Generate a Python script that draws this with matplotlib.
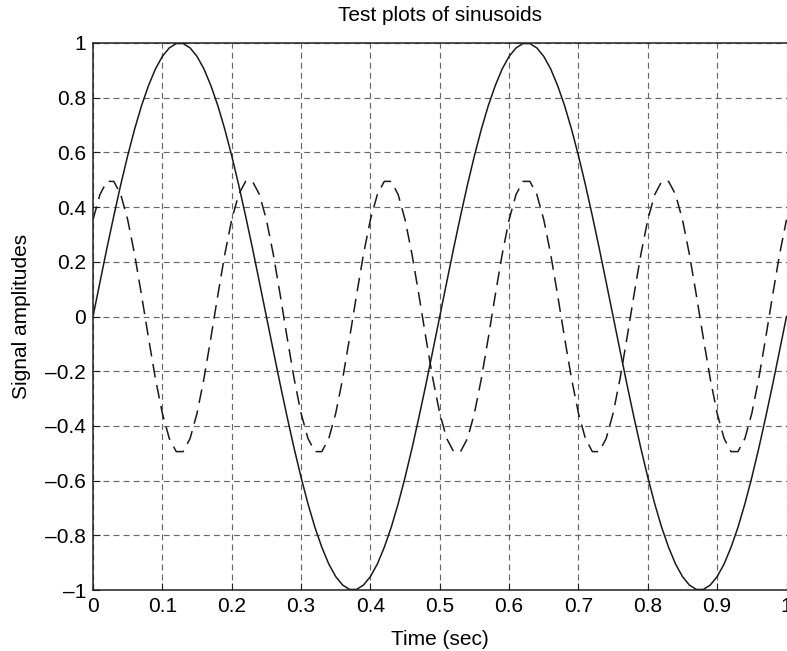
import matplotlib.pyplot as plt

plt.rcParams['font.family'] = ['Liberation Sans', 'DejaVu Sans']

# sample times, 0 to 1 s in 0.01 s steps
t = [k / 100 for k in range(101)]

# one cycle (50 samples) of the 2 Hz signal
cyc1 = [0.0, 0.125, 0.249, 0.368, 0.482, 0.588, 0.685, 0.771, 0.844, 0.905,
        0.951, 0.982, 0.998, 0.998, 0.982, 0.951, 0.905, 0.844, 0.771, 0.685,
        0.588, 0.482, 0.368, 0.249, 0.125,
        0.0, -0.125, -0.249, -0.368, -0.482, -0.588, -0.685, -0.771, -0.844, -0.905,
        -0.951, -0.982, -0.998, -0.998, -0.982, -0.951, -0.905, -0.844, -0.771, -0.685,
        -0.588, -0.482, -0.368, -0.249, -0.125]
x1 = cyc1 * 2 + [0.0]

# one cycle (20 samples) of the 5 Hz signal
cyc2 = [0.354, 0.446, 0.494, 0.494, 0.446, 0.354, 0.227, 0.078, -0.078, -0.227,
        -0.354, -0.446, -0.494, -0.494, -0.446, -0.354, -0.227, -0.078, 0.078, 0.227]
x2 = cyc2 * 5 + [0.354]

xticks = [0, 0.1, 0.2, 0.3, 0.4, 0.5, 0.6, 0.7, 0.8, 0.9, 1]
xlabels = ['0', '0.1', '0.2', '0.3', '0.4', '0.5', '0.6', '0.7', '0.8', '0.9', '1']
yticks = [-1, -0.8, -0.6, -0.4, -0.2, 0, 0.2, 0.4, 0.6, 0.8, 1]
ylabels = ['\u20131', '\u20130.8', '\u20130.6', '\u20130.4', '\u20130.2', '0',
           '0.2', '0.4', '0.6', '0.8', '1']

fig = plt.figure(figsize=(7.87, 6.51), dpi=100)
# right edge of the axes sits right at the border of the picture (the "1" is cut, as in the original)
ax = fig.add_axes([93 / 787, 61 / 651, 693.5 / 787, 547 / 651])

ax.plot(t, x1, color='#1a1a1a', linewidth=1.1)
ax.plot(t, x2, color='#1a1a1a', linewidth=1.1, linestyle=(0, (9, 5)))

ax.set_xlim(0, 1)
ax.set_ylim(-1, 1)
ax.set_xticks(xticks)
ax.set_xticklabels(xlabels)
ax.set_yticks(yticks)
ax.set_yticklabels(ylabels)
ax.tick_params(direction='in', labelsize=15, length=5, color='#222222')
ax.tick_params(axis='x', pad=5)
ax.tick_params(axis='y', pad=5)

ax.grid(True, linestyle=(0, (5, 3.5)), color='#666666', linewidth=0.85)
for s in ax.spines.values():
    s.set_linewidth(1.1)
    s.set_color('#222222')
ax.spines['right'].set_visible(False)

ax.set_title('Test plots of sinusoids', fontsize=15, pad=16)
ax.set_xlabel('Time (sec)', fontsize=15, labelpad=10)
ax.set_ylabel('Signal amplitudes', fontsize=15, labelpad=10)

plt.savefig('out.png')
